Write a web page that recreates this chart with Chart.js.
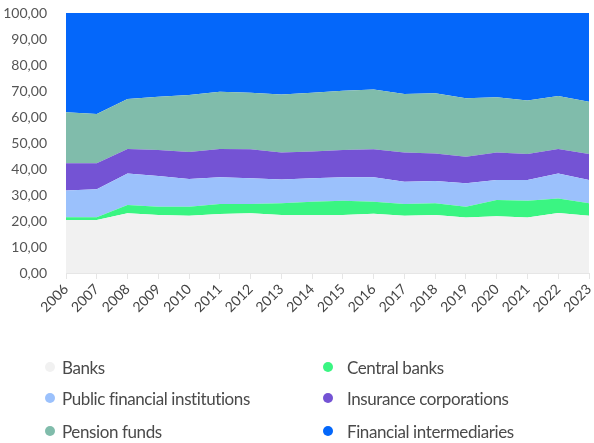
<!DOCTYPE html>
<html>
<head>
<meta charset="utf-8">
<script src="https://cdn.jsdelivr.net/npm/chart.js@4"></script>
<style>
  body { margin: 0; background: #fff; font-family: Lato, sans-serif; }
  #wrap { position: relative; width: 594px; height: 345px; }
  #legend { position: absolute; left: 0; top: 0; width: 594px; height: 443px; pointer-events: none; }
  .item { position: absolute; display: flex; align-items: center; font-size: 17px; font-weight: 400; letter-spacing: -0.4px; color: #4a4a4a; height: 24px; white-space: nowrap; }
  .dot { width: 10px; height: 10px; border-radius: 50%; }
</style>
</head>
<body>
<div id="wrap"><canvas id="chart" width="594" height="345"></canvas></div>
<div id="legend"></div>
<script>
var years = ['2006','2007','2008','2009','2010','2011','2012','2013','2014','2015','2016','2017','2018','2019','2020','2021','2022','2023'];

var banks = [20.4,20.4,23.0,22.3,22.0,22.7,23.0,22.3,22.3,22.3,22.8,22.0,22.3,21.3,21.8,21.3,23.1,22.0];
var centralBanks = [1.0,1.0,3.2,3.2,3.5,3.8,3.5,4.5,5.1,5.5,4.6,4.5,4.5,4.2,6.3,6.5,5.6,4.8];
var publicInst = [10.3,10.8,12.1,11.8,10.7,10.3,9.9,9.2,9.0,9.0,9.4,8.6,8.6,9.0,7.7,8.0,9.6,9.0];
var insurance = [10.5,10.0,9.4,10.0,10.3,10.9,11.2,10.3,10.3,10.5,10.8,11.2,10.6,10.2,10.5,10.0,9.4,10.0];
var pension = [19.6,19.0,19.2,20.5,22.0,22.0,21.7,22.4,22.6,22.8,23.0,22.5,23.1,22.5,21.3,20.5,20.4,20.1];
var intermediaries = [38.2,38.8,33.1,32.2,31.5,30.3,30.7,31.3,30.7,29.9,29.4,31.2,30.9,32.8,32.4,33.7,31.9,34.1];

var names = ['Banks', 'Central banks', 'Public financial institutions', 'Insurance corporations', 'Pension funds', 'Financial intermediaries'];
var colors = ['#f1f1f1', '#3af582', '#9bc1fc', '#7453d4', '#80bcab', '#0467fa'];
var series = [banks, centralBanks, publicInst, insurance, pension, intermediaries];

var datasets = series.map(function(d, i) {
    return {
        label: names[i],
        data: d,
        backgroundColor: colors[i],
        borderColor: colors[i],
        borderWidth: 0,
        pointRadius: 0,
        fill: i == 0 ? 'origin' : '-1',
        tension: 0
    };
});

var ctx = document.getElementById('chart').getContext('2d');
var chart = new Chart(ctx, {
    type: 'line',
    data: { labels: years, datasets: datasets },
    options: {
        responsive: false,
        animation: false,
        layout: { padding: { top: 13, right: 5, left: 0, bottom: 0 } },
        plugins: { legend: { display: false }, tooltip: { enabled: false } },
        scales: {
            x: {
                offset: false,
                grid: { display: true, drawOnChartArea: false, tickLength: 6, color: '#e6e6e6' },
                border: { display: true, color: '#e6e6e6' },
                ticks: {
                    maxRotation: 45, minRotation: 45, autoSkip: false,
                    color: '#444', padding: 2,
                    font: { family: 'Lato', size: 14, weight: 400 }
                },
                afterFit: function(s) { s.height = 72; s.paddingLeft = 0; s.paddingRight = 0; }
            },
            y: {
                stacked: true,
                min: 0, max: 100,
                grid: { display: false },
                border: { display: false },
                ticks: {
                    stepSize: 10, color: '#555', padding: 11,
                    font: { family: 'Lato', size: 14, weight: 400 },
                    callback: function(v) { return v.toFixed(2).replace('.', ','); }
                },
                afterFit: function(s) { s.width = 66; s.paddingTop = 0; s.paddingBottom = 0; }
            }
        }
    }
});

// legend laid out in two fixed columns
var legendPos = [[50, 367], [328, 367], [50, 398], [328, 398], [50, 431], [328, 431]];
var textX = [62, 347];
var legend = document.getElementById('legend');
names.forEach(function(n, i) {
    var p = legendPos[i];
    var el = document.createElement('div');
    el.className = 'item';
    el.style.left = (p[0] - 5) + 'px';
    el.style.top = (p[1] - 12) + 'px';
    var gap = textX[i % 2] - p[0] - 5;
    el.innerHTML = '<span class="dot" style="background:' + colors[i] + ';margin-right:' + gap + 'px"></span>' + n;
    legend.appendChild(el);
});
</script>
</body>
</html>
